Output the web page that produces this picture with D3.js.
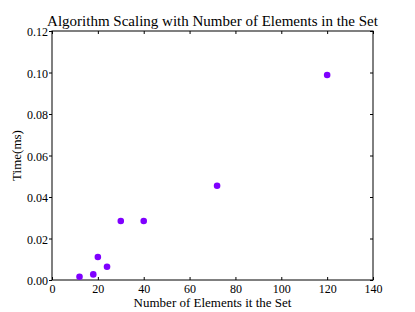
<!DOCTYPE html>
<html>
<head>
<meta charset="utf-8">
<script src="https://cdn.jsdelivr.net/npm/d3@7"></script>
<style>
  body { margin: 0; background: #fff; }
  svg, svg text { font-family: "Liberation Serif", "DejaVu Serif", serif; }
</style>
</head>
<body>
<svg id="chart"></svg>
<script>
// data
const elements = [12, 18, 20, 24, 30, 40, 72, 120]
const times = [0.0016, 0.0027, 0.0111, 0.0064, 0.0284, 0.0284, 0.0454, 0.0988]
const xTicks = [0, 20, 40, 60, 80, 100, 120, 140]
const yTicks = [0, 0.02, 0.04, 0.06, 0.08, 0.10, 0.12]

const width = 415, height = 312
const m = { left: 52, right: 42, top: 31, bottom: 32 }

let svg = d3.select("#chart")
    .attr("width", width)
    .attr("height", height)

let x = d3.scaleLinear().domain([0, 140]).range([m.left, width - m.right])
let y = d3.scaleLinear().domain([0, 0.12]).range([height - m.bottom, m.top])

// bottom axis, ticks pointing in
let gx = svg.append("g")
    .attr("transform", `translate(0,${y(0)})`)
    .call(d3.axisBottom(x).tickValues(xTicks).tickSizeInner(-3).tickSizeOuter(0))
gx.selectAll("text").attr("font-size", 12).attr("fill", "#000").attr("y", 13).attr("dy", 0)

// top ticks
svg.append("g")
    .attr("transform", `translate(0,${y(0.12)})`)
    .call(d3.axisTop(x).tickValues(xTicks).tickSizeInner(-3).tickSizeOuter(0).tickFormat(""))

// left axis
let gy = svg.append("g")
    .attr("transform", `translate(${x(0)},0)`)
    .call(d3.axisLeft(y).tickValues(yTicks).tickSizeInner(3).tickSizeOuter(0).tickPadding(1).tickFormat(d3.format(".2f")))
gy.selectAll("text").attr("font-size", 12).attr("fill", "#000").attr("dy", "0.4em")

// right ticks
svg.append("g")
    .attr("transform", `translate(${x(140)},0)`)
    .call(d3.axisRight(y).tickValues(yTicks).tickSizeInner(-3).tickSizeOuter(0).tickFormat(""))

svg.selectAll("g").attr("font-family", null)
svg.selectAll(".domain").remove()
svg.selectAll(".tick line").attr("stroke", "#000")

// frame
svg.append("rect")
    .attr("x", x(0)).attr("y", y(0.12))
    .attr("width", x(140) - x(0)).attr("height", y(0) - y(0.12))
    .attr("fill", "none").attr("stroke", "#000").attr("stroke-width", 1)

// points
svg.append("g").selectAll("circle")
    .data(elements.map((e, i) => ({ e, t: times[i] })))
    .join("circle")
    .attr("cx", d => x(d.e))
    .attr("cy", d => y(d.t))
    .attr("r", 3.3)
    .attr("fill", "#7f00ff")

// labels
svg.append("text")
    .attr("x", (x(0) + x(140)) / 2).attr("y", 26)
    .attr("text-anchor", "middle").attr("font-size", 15)
    .text("Algorithm Scaling with Number of Elements in the Set")

svg.append("text")
    .attr("x", (x(0) + x(140)) / 2).attr("y", 307)
    .attr("text-anchor", "middle").attr("font-size", 13)
    .text("Number of Elements it the Set")

svg.append("text")
    .attr("transform", `translate(21,${(y(0) + y(0.12)) / 2}) rotate(-90)`)
    .attr("text-anchor", "middle").attr("font-size", 13)
    .text("Time(ms)")
</script>
</body>
</html>
